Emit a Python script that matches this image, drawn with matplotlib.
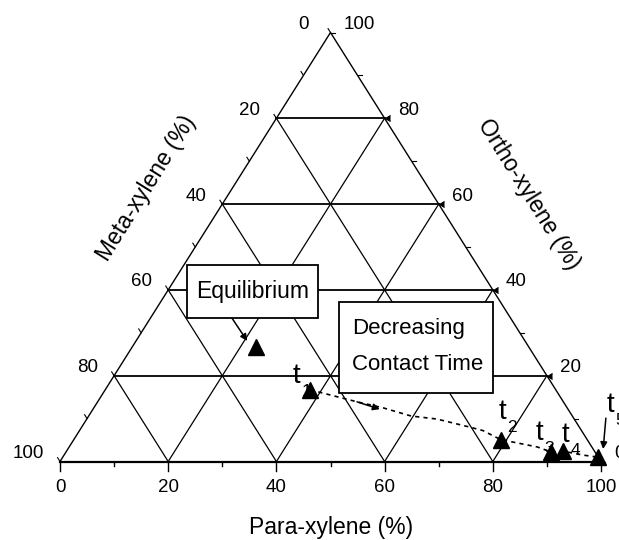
import numpy as np
import matplotlib
matplotlib.use('Agg')
import matplotlib.pyplot as plt
from matplotlib.patches import Rectangle

plt.rcParams['font.family'] = ['Liberation Sans', 'DejaVu Sans']

# ternary data: para (%) and ortho (%), meta = 100 - para - ortho
eq_para = [22.8]
eq_ortho = [26.7]

t_names = ['1', '2', '3', '4', '5']
t_para = [37.9, 78.9, 89.7, 91.8, 99.0]
t_ortho = [16.7, 5.1, 2.2, 2.4, 1.0]

# dashed trend line
curve_para = [37.9, 48.0, 53.5, 59.6, 64.7, 71.8, 74.6, 78.9, 86.5, 89.7, 91.8, 95.9, 99.0]
curve_ortho = [16.7, 13.9, 12.5, 10.6, 9.9, 8.0, 7.2, 5.1, 3.4, 2.2, 2.4, 1.5, 1.0]

grid_vals = [20, 40, 60, 80]
tick_vals = [0, 20, 40, 60, 80, 100]


def tern(p, o):
    p = np.asarray(p, dtype=float)
    o = np.asarray(o, dtype=float)
    return p + o / 2.0, o


fig = plt.figure(figsize=(6.19, 5.4), dpi=100)
ax = fig.add_axes([60 / 619, (540 - 461.5) / 540, 541 / 619, 429 / 540])
ax.set_xlim(0, 100)
ax.set_ylim(0, 100)
ax.axis('off')

# frame
x, y = tern([0, 100, 0, 0], [0, 0, 100, 0])
ax.plot(x[:2], y[:2], color='black', lw=1.6, clip_on=False)
ax.plot(x[1:], y[1:], color='black', lw=1.0, clip_on=False)

# grid
for k in grid_vals:
    x, y = tern([0, 100 - k], [k, k])
    ax.plot(x, y, color='black', lw=1.3)
    ax.plot(x[1], y[1], marker=4, color='black', ms=5, mew=0.8)
    x, y = tern([k, k], [0, 100 - k])
    ax.plot(x, y, color='black', lw=0.9)
    x, y = tern([100 - k, 0], [0, 100 - k])
    ax.plot(x, y, color='black', lw=0.9)

# ticks
for v in range(0, 101, 10):
    big = v % 20 == 0
    # bottom
    x, y = tern([v, v], [0, 0])
    ax.plot(x, [0, -(2.1 if big else 1.0)], color='black', lw=1.0, clip_on=False)
    # left (meta)
    x, y = tern([0], [100 - v])
    ax.plot([x[0], x[0] - 0.45], [y[0], y[0] + 0.9], color='black', lw=0.8, clip_on=False)
    # right (ortho)
    x, y = tern([100 - v], [v])
    ax.plot([x[0], x[0] + 0.8], [y[0], y[0]], color='black', lw=0.8, clip_on=False)

# tick labels
for v in tick_vals:
    x, y = tern([v], [0])
    ax.annotate(str(v), (x[0], y[0]), xytext=(0, -19), textcoords='offset points',
                ha='center', va='center', fontsize=13.5, annotation_clip=False)
    x, y = tern([0], [100 - v])
    dx = -16 if v == 0 else -11.5
    ax.annotate(str(v), (x[0], y[0]), xytext=(dx, 5.8), textcoords='offset points',
                ha='right', va='center', fontsize=13.5, annotation_clip=False)
    x, y = tern([100 - v], [v])
    ax.annotate(str(v), (x[0], y[0]), xytext=(9.5, 5.8), textcoords='offset points',
                ha='left', va='center', fontsize=13.5, annotation_clip=False)

# axis titles
ax.text(50.1, -15.5, 'Para-xylene (%)', ha='center', va='center', fontsize=16.5, clip_on=False)
ax.text(15.9, 63.6, 'Meta-xylene (%)', ha='center', va='center', fontsize=16.5,
        rotation=58, rotation_mode='anchor', clip_on=False)
ax.text(86.6, 62.2, 'Ortho-xylene (%)', ha='center', va='center', fontsize=16.5,
        rotation=-58, rotation_mode='anchor', clip_on=False)

# dashed trend
cx, cy = tern(curve_para, curve_ortho)
ax.plot(cx, cy, color='black', lw=1.2, ls=(0, (2.5, 2.5)), clip_on=False, zorder=3)

# markers
ex, ey = tern(eq_para, eq_ortho)
ax.plot(ex, ey, '^', color='black', ms=11, clip_on=False, zorder=4)
tx, ty = tern(t_para, t_ortho)
ax.plot(tx, ty, '^', color='black', ms=11, clip_on=False, zorder=4)

# t labels
t_lab_x = [43.0, 81.0, 88.0, 92.7, 101.1]
t_lab_y = [18.3, 9.9, 5.0, 4.6, 11.6]
for name, lx, ly in zip(t_names, t_lab_x, t_lab_y):
    ax.text(lx, ly, 't', ha='left', va='baseline', fontsize=20, clip_on=False, zorder=5)
    ax.annotate(name, (lx, ly), xytext=(6.3, -9.5), textcoords='offset points',
                ha='left', va='baseline', fontsize=12.5, annotation_clip=False, zorder=5)

# boxes
ax.add_patch(Rectangle((23.5, 33.4), 24.2, 12.4, facecolor='white', edgecolor='black',
                       lw=1.3, zorder=6))
ax.text(35.6, 39.6, 'Equilibrium', ha='center', va='center', fontsize=16.5, zorder=7)

ax.add_patch(Rectangle((51.6, 15.97), 28.4, 21.2, facecolor='white', edgecolor='black',
                       lw=1.3, zorder=6))
ax.text(54.0, 31.1, 'Decreasing', ha='left', va='center', fontsize=16, zorder=7)
ax.text(54.0, 22.5, 'Contact Time', ha='left', va='center', fontsize=16, zorder=7)

# arrows
arrow = dict(arrowstyle='-|>', color='black', lw=1.1, mutation_scale=10, shrinkA=0, shrinkB=0)
ax.annotate('', xy=(34.6, 28.1), xytext=(31.8, 33.4), arrowprops=arrow, zorder=5)
ax.annotate('', xy=(59.1, 12.2), xytext=(54.9, 13.9), arrowprops=arrow, zorder=5)
ax.annotate('', xy=(100.4, 2.9), xytext=(100.9, 10.1), arrowprops=arrow,
            annotation_clip=False, zorder=5)

fig.savefig('out.png', dpi=100)
